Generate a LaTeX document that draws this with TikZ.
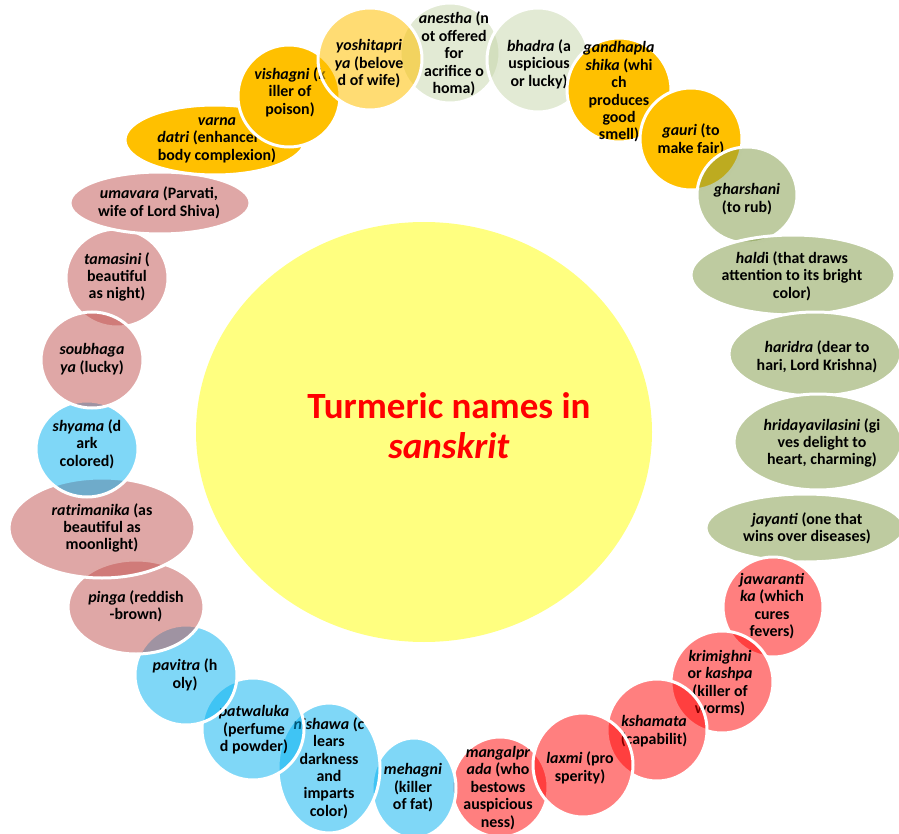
\documentclass[tikz,border=0pt]{standalone}
\usepackage{fontspec}
\setmainfont{Carlito}
\usetikzlibrary{shapes.geometric}
\definecolor{goldc}{HTML}{FFC000}
\definecolor{palec}{HTML}{C5D5A9}
\definecolor{olivec}{HTML}{7D9741}
\definecolor{redc}{HTML}{FF0000}
\definecolor{bluec}{HTML}{00B0F0}
\definecolor{rosec}{HTML}{C0504D}
\definecolor{yellowc}{HTML}{FFFF80}
\tikzset{
  petal/.style={ellipse, draw=white, line width=3pt, inner sep=0pt, outer sep=0pt},
  goldp/.style={fill=goldc},
  goldlt/.style={fill=goldc, fill opacity=0.55},
  palep/.style={fill=palec, fill opacity=0.5},
  olivep/.style={fill=olivec, fill opacity=0.5},
  redp/.style={fill=redc, fill opacity=0.5},
  bluep/.style={fill=bluec, fill opacity=0.5},
  rosep/.style={fill=rosec, fill opacity=0.5},
  ptext/.style={align=center, inner sep=0pt, text=black, font=\fontsize{15.9}{17.4}\selectfont\bfseries},
  title/.style={align=center, inner sep=0pt, text=redc, font=\fontsize{37}{40}\selectfont\bfseries}
}
\newcommand\petal[8]{%
  \node[petal,#6,minimum width=#4pt,minimum height=#5pt] (#1) at (#2,#3) {};
  \node[ptext] (#1-t) at (#7) {#8};
}
\begin{document}
\begin{tikzpicture}[x=1pt,y=-1pt]
\useasboundingbox (0,0) rectangle (899,834);
\clip (0,0) rectangle (899,834);
\node[ellipse, fill=yellowc, minimum width=456pt, minimum height=420pt, inner sep=0pt] (core) at (424,432) {};
\node[title] (core-t) at (449,426) {Turmeric names in\\\textit{sanskrit}};
\petal{anestha}{450}{53}{100}{100}{palep}{454,54}{\textit{anestha} (n\\ot offered\\for\\acrifice o\\homa)}
\petal{bhadra}{538}{60}{102}{104}{palep}{539,64}{\textit{bhadra} (a\\uspicious\\or lucky)}
\petal{gandha}{619}{90}{104}{104}{goldp}{619,92}{\textit{gandhapla}\\\textit{shika} (whi\\ch\\produces\\good\\smell)}
\petal{gauri}{691}{139}{102}{102}{goldp}{691,140}{\textit{gauri} (to\\make fair)}
\petal{gharshani}{747}{195}{100}{96}{olivep}{747,199}{\textit{gharshani}\\(to rub)}
\petal{haldi}{793}{275}{204}{80}{olivep}{792,276}{\textit{hald}i (that draws\\attention to its bright\\color)}
\petal{haridra}{815}{354}{172}{84}{olivep}{817,357}{\textit{haridra} (dear to\\hari, Lord Krishna)}
\petal{hrida}{818}{442}{168}{96}{olivep}{822,443}{\textit{hridayavilasini} (gi\\ves delight to\\heart, charming)}
\petal{jayanti}{805}{528}{198}{68}{olivep}{807,528}{\textit{jayanti} (one that\\wins over diseases)}
\petal{jawa}{773}{607}{100}{100}{redp}{772,606}{\textit{jawaranti}\\\textit{ka} (which\\cures\\fevers)}
\petal{krimi}{722}{682}{102}{102}{redp}{720,683}{\textit{krimighni}\\or \textit{kashpa}\\(killer of\\worms)}
\petal{kshamata}{657}{730}{100}{102}{redp}{654,731}{\textit{kshamata}\\(capabilit)}
\petal{mangal}{500}{787}{96}{100}{redp}{498,788}{\textit{mangalpr}\\\textit{ada} (who\\bestows\\auspicious\\ness)}
\petal{laxmi}{583}{765}{100}{104}{redp}{580,768}{\textit{laxmi} (pro\\sperity)}
\petal{mehagni}{414}{788}{84}{100}{bluep}{413,788}{\textit{mehagni}\\(killer\\of fat)}
\petal{nishawa}{329}{768}{102}{130}{bluep}{329,768}{\textit{nishawa} (c\\lears\\darkness\\and\\imparts\\color)}
\petal{patwaluka}{253}{729}{102}{102}{bluep}{254,730}{\textit{patwaluka}\\(perfume\\d powder)}
\petal{pavitra}{186}{675}{102}{100}{bluep}{185,675}{\textit{pavitra} (h\\oly)}
\petal{pinga}{136}{607}{136}{94}{rosep}{136,606}{\textit{pinga} (reddish\\-brown)}
\petal{ratri}{102}{528}{186}{100}{rosep}{102,528}{\textit{ratrimanika} (as\\beautiful as\\moonlight)}
\petal{shyama}{87}{449}{102}{96}{bluep}{87,444}{\textit{shyama} (d\\ark\\colored)}
\petal{tamasini}{117}{278}{102}{98}{rosep}{117,277}{\textit{tamasini} (\\beautiful\\as night)}
\petal{soubhagaya}{92}{360}{102}{96}{rosep}{92,359}{\textit{soubhaga}\\\textit{ya} (lucky)}
\petal{umavara}{160}{203}{180}{62}{rosep}{159,203}{\textit{umavara} (Parvati,\\wife of Lord Shiva)}
\petal{varna}{215}{140}{180}{70}{goldp}{217,140}{\textit{varna}\\\textit{datri} (enhancer of\\body complexion)}
\petal{vishagni}{289}{96}{102}{102}{goldp}{290,92}{\textit{vishagni} (k\\iller of\\poison)}
\petal{yoshita}{370}{59}{104}{102}{goldlt}{369,64}{\textit{yoshitapri}\\\textit{ya} (belove\\d of wife)}
\end{tikzpicture}
\end{document}
